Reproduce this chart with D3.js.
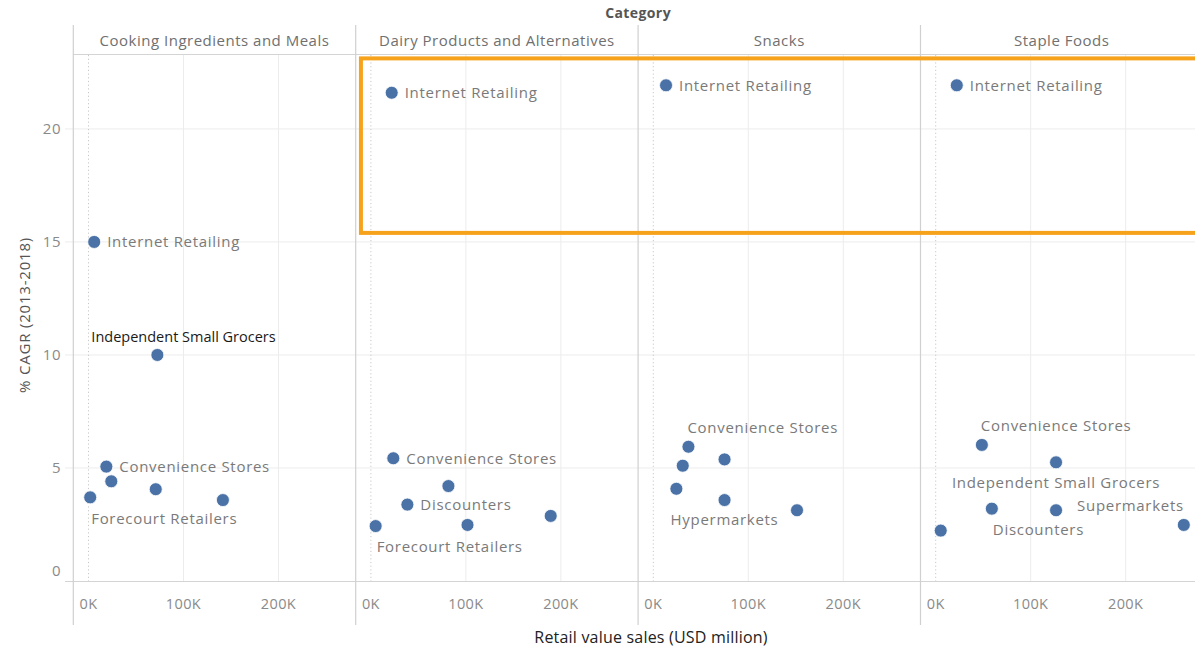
<!DOCTYPE html>
<html><head><meta charset="utf-8">
<script src="https://cdn.jsdelivr.net/npm/d3@7"></script>
<style>
body{margin:0;background:#fff}
svg{display:block}
text{font-family:"Open Sans",sans-serif}
</style>
</head><body>
<svg id="c" width="1195" height="648"></svg>
<script>
// ---------- DATA ----------
const categories = ["Cooking Ingredients and Meals","Dairy Products and Alternatives","Snacks","Staple Foods"];
const pointCategory = [0,0,0,0,0,0,0, 1,1,1,1,1,1,1, 2,2,2,2,2,2,2, 3,3,3,3,3,3,3];
const pointChannel = [
  "Internet Retailing","Independent Small Grocers","Convenience Stores","Discounters","Forecourt Retailers","Hypermarkets","Supermarkets",
  "Internet Retailing","Convenience Stores","Independent Small Grocers","Discounters","Forecourt Retailers","Hypermarkets","Supermarkets",
  "Internet Retailing","Convenience Stores","Discounters","Independent Small Grocers","Forecourt Retailers","Hypermarkets","Supermarkets",
  "Internet Retailing","Convenience Stores","Independent Small Grocers","Discounters","Hypermarkets","Supermarkets","Forecourt Retailers"
];
// Retail value sales, thousands of USD million (K)
const pointSales = [6,72.5,18.8,24,1.8,70.8,141.5, 21.9,23.6,81.6,38.4,5,101.7,189.3, 13.4,37,31,75,24.3,75,151.3, 22.2,48.6,126.7,59.1,126.7,261.2,5.3];
// % CAGR 2013-2018
const pointCagr = [15.0,10.0,5.06,4.41,3.70,4.06,3.58, 21.6,5.43,4.2,3.38,2.43,2.48,2.88, 21.93,5.94,5.1,5.38,4.08,3.58,3.13, 21.93,6.02,5.25,3.2,3.13,2.48,2.23];
const yTicks = [0,5,10,15,20];
const xTicks = [0,100,200];
const xTickLabels = ["0K","100K","200K"];
// which points are labelled, and where the label sits
const labelPoint = [0,1,2,4, 7,8,10,11, 14,15,19, 21,22,23,24,26];
const labelPlace = ["right","note","right","below-right", "right","right","right","below-right", "right","above-right","below", "right","above-right","below","below-right","above-left"];
// highlight box (panel range, sales at left, cagr range)
const highlight = {fromPanel:1, sales:-10.5, cagrTop:23.12, cagrBottom:15.4};

// ---------- LAYOUT ----------
const svg = d3.select("#c");
const W = 1195;
const panelX0 = 73.3, panelW = 282.4, yTop = 55, yBot = 581;
const x = d3.scaleLinear().domain([-16, 281.3]).range([0, panelW]);
const y = d3.scaleLinear().domain([0, 23.27]).range([yBot, yTop]);
const px = i => panelX0 + i*panelW;

const grid = svg.append("g");
grid.selectAll("line.h").data(yTicks.filter(d=>d>0)).join("line")
  .attr("x1",65).attr("x2",W).attr("y1",d=>y(d)).attr("y2",d=>y(d))
  .attr("stroke","#ececec").attr("stroke-width",1);
categories.forEach((c,i)=>{
  const g = grid.append("g").attr("transform",`translate(${px(i)},0)`);
  g.selectAll("line.v").data(xTicks.filter(d=>d>0)).join("line")
    .attr("x1",d=>x(d)).attr("x2",d=>x(d)).attr("y1",yTop).attr("y2",yBot)
    .attr("stroke","#ececec");
  g.append("line").attr("x1",x(0)).attr("x2",x(0)).attr("y1",yTop).attr("y2",yBot)
    .attr("stroke","#c8c8c8").attr("stroke-dasharray","1.2,2.5");
  g.selectAll("text.xt").data(xTicks).join("text")
    .attr("x",d=>x(d)).attr("y",604).attr("dy","0.35em")
    .attr("text-anchor","middle").attr("fill","#8a8a8a").attr("font-size",14.5)
    .attr("letter-spacing",0.4)
    .text((d,k)=>xTickLabels[k]);
  g.append("text").attr("x",panelW/2).attr("y",41).attr("dy","0.35em")
    .attr("text-anchor","middle").attr("fill","#707070").attr("font-size",15)
    .attr("letter-spacing",0.5).text(c);
});
svg.append("line").attr("x1",panelX0).attr("x2",W).attr("y1",54.5).attr("y2",54.5).attr("stroke","#d4d4d4");
svg.append("line").attr("x1",65).attr("x2",W).attr("y1",yBot+0.5).attr("y2",yBot+0.5).attr("stroke","#d4d4d4");
svg.selectAll("line.div").data(d3.range(5)).join("line")
  .attr("x1",i=>px(i)).attr("x2",i=>px(i)).attr("y1",25).attr("y2",625)
  .attr("stroke","#d0d0d0").attr("stroke-width",1.2);

svg.selectAll("text.yt").data(yTicks).join("text")
  .attr("x",61).attr("y",d=>Math.min(y(d),571)).attr("dy","0.35em")
  .attr("text-anchor","end").attr("fill","#8a8a8a").attr("font-size",15)
  .attr("letter-spacing",0.5).text(d=>d);

svg.append("text").attr("x",px(2)).attr("y",13).attr("dy","0.35em").attr("text-anchor","middle")
  .attr("fill","#555").attr("font-size",14).attr("font-weight","bold").attr("letter-spacing",0.4).text("Category");
svg.append("text").attr("transform",`translate(25,${(yTop+yBot)/2-3}) rotate(-90)`).attr("dy","0.35em")
  .attr("text-anchor","middle").attr("fill","#555").attr("font-size",15).attr("letter-spacing",0.8).text("% CAGR (2013-2018)");
svg.append("text").attr("x",651).attr("y",637).attr("dy","0.35em").attr("text-anchor","middle")
  .attr("fill","#222").attr("font-size",16).attr("letter-spacing",0.2).text("Retail value sales (USD million)");

svg.append("rect")
  .attr("x",px(highlight.fromPanel)+x(highlight.sales)).attr("y",y(highlight.cagrTop))
  .attr("width",1300).attr("height",y(highlight.cagrBottom)-y(highlight.cagrTop))
  .attr("fill","none").attr("stroke","#f7a21b").attr("stroke-width",4);

const pts = pointSales.map((s,i)=>({cat:pointCategory[i], name:pointChannel[i], s, c:pointCagr[i]}));
const cx = d => px(d.cat)+x(d.s), cy = d => y(d.c);
svg.selectAll("circle.pt").data(pts).join("circle")
  .attr("cx",cx).attr("cy",cy).attr("r",6.5)
  .attr("fill","#4a72a6").attr("stroke","#fff").attr("stroke-width",0.8);

const placeCfg = {
  "right":{dx:13,dy:0,a:"start"},
  "below-right":{dx:1,dy:21,a:"start"},
  "above-right":{dx:-1,dy:-19,a:"start"},
  "below":{dx:0,dy:20,a:"middle"},
  "above-left":{dx:0,dy:-19,a:"end"},
  "note":{dx:-66,dy:-18,a:"start"}
};
svg.selectAll("text.lbl").data(labelPoint.map((p,k)=>({p:pts[p], place:labelPlace[k]}))).join("text")
  .attr("x",d=>cx(d.p)+placeCfg[d.place].dx).attr("y",d=>cy(d.p)+placeCfg[d.place].dy)
  .attr("dy","0.35em").attr("text-anchor",d=>placeCfg[d.place].a)
  .attr("fill",d=>d.place==="note"?"#1a1a1a":"#7a7a7a")
  .attr("font-size",d=>d.place==="note"?14.5:15)
  .attr("letter-spacing",d=>d.place==="note"?0:0.7)
  .text(d=>d.p.name);
</script>
</body></html>
